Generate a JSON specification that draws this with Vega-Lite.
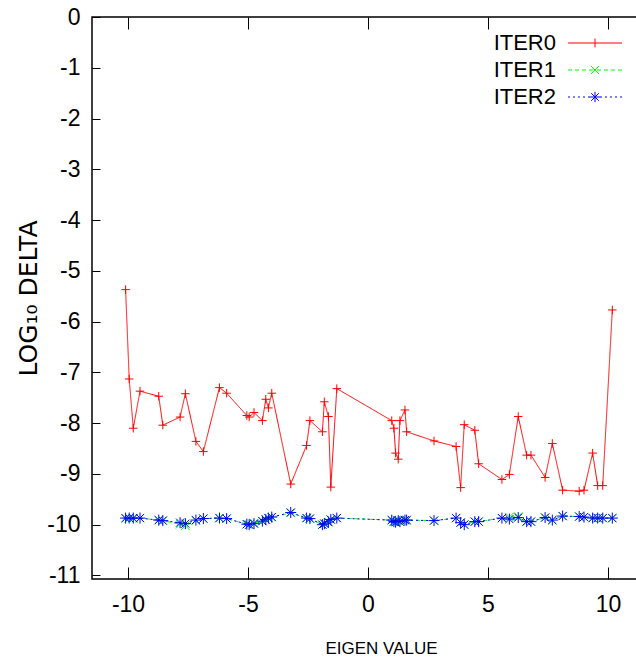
{
  "$schema": "https://vega.github.io/schema/vega-lite/v6.json",
  "width": 552,
  "height": 562,
  "autosize": {"type": "none"},
  "padding": {"left": 92, "top": 17, "right": -8, "bottom": 82},
  "background": "white",
  "config": {
    "view": {"stroke": "black", "strokeWidth": 1.5},
    "axis": {
      "labelColor": "black",
      "tickColor": "black",
      "tickWidth": 1,
      "domain": false,
      "grid": false,
      "labelFont": "Liberation Sans",
      "labelFontSize": 23,
      "titleColor": "black",
      "titleFontWeight": "normal",
      "labelOverlap": false,
      "labelFlush": false,
      "labelExpr": "toString(datum.value)"
    }
  },
  "data": {
    "values": [
      {"x": -10.10, "ITER0": -5.37, "ITER1": -9.88, "ITER2": -9.87},
      {"x": -9.95, "ITER0": -7.13, "ITER1": -9.87, "ITER2": -9.87},
      {"x": -9.78, "ITER0": -8.10, "ITER1": -9.88, "ITER2": -9.87},
      {"x": -9.50, "ITER0": -7.37, "ITER1": -9.87, "ITER2": -9.87},
      {"x": -8.72, "ITER0": -7.47, "ITER1": -9.91, "ITER2": -9.91},
      {"x": -8.55, "ITER0": -8.04, "ITER1": -9.92, "ITER2": -9.92},
      {"x": -7.83, "ITER0": -7.88, "ITER1": -9.99, "ITER2": -9.96},
      {"x": -7.61, "ITER0": -7.42, "ITER1": -10.02, "ITER2": -9.98},
      {"x": -7.17, "ITER0": -8.36, "ITER1": -9.92, "ITER2": -9.91},
      {"x": -6.86, "ITER0": -8.56, "ITER1": -9.88, "ITER2": -9.88},
      {"x": -6.19, "ITER0": -7.30, "ITER1": -9.87, "ITER2": -9.87},
      {"x": -5.89, "ITER0": -7.41, "ITER1": -9.88, "ITER2": -9.88},
      {"x": -5.05, "ITER0": -7.85, "ITER1": -9.99, "ITER2": -9.99},
      {"x": -4.95, "ITER0": -7.88, "ITER1": -10.0, "ITER2": -10.0},
      {"x": -4.75, "ITER0": -7.79, "ITER1": -9.97, "ITER2": -9.98},
      {"x": -4.40, "ITER0": -7.95, "ITER1": -9.93, "ITER2": -9.93},
      {"x": -4.26, "ITER0": -7.53, "ITER1": -9.90, "ITER2": -9.90},
      {"x": -4.15, "ITER0": -7.70, "ITER1": -9.87, "ITER2": -9.87},
      {"x": -4.01, "ITER0": -7.41, "ITER1": -9.85, "ITER2": -9.85},
      {"x": -3.22, "ITER0": -9.20, "ITER1": -9.77, "ITER2": -9.76},
      {"x": -2.56, "ITER0": -8.44, "ITER1": -9.87, "ITER2": -9.87},
      {"x": -2.42, "ITER0": -7.95, "ITER1": -9.88, "ITER2": -9.88},
      {"x": -1.90, "ITER0": -8.17, "ITER1": -10.0, "ITER2": -10.0},
      {"x": -1.82, "ITER0": -7.58, "ITER1": -9.98, "ITER2": -9.98},
      {"x": -1.65, "ITER0": -7.87, "ITER1": -9.95, "ITER2": -9.95},
      {"x": -1.55, "ITER0": -9.26, "ITER1": -9.90, "ITER2": -9.90},
      {"x": -1.30, "ITER0": -7.32, "ITER1": -9.87, "ITER2": -9.87},
      {"x": 0.99, "ITER0": -7.95, "ITER1": -9.91, "ITER2": -9.91},
      {"x": 1.08, "ITER0": -8.10, "ITER1": -9.94, "ITER2": -9.94},
      {"x": 1.15, "ITER0": -8.59, "ITER1": -9.95, "ITER2": -9.95},
      {"x": 1.26, "ITER0": -8.71, "ITER1": -9.92, "ITER2": -9.92},
      {"x": 1.33, "ITER0": -7.95, "ITER1": -9.94, "ITER2": -9.94},
      {"x": 1.54, "ITER0": -7.74, "ITER1": -9.91, "ITER2": -9.91},
      {"x": 1.61, "ITER0": -8.17, "ITER1": -9.91, "ITER2": -9.91},
      {"x": 2.75, "ITER0": -8.35, "ITER1": -9.92, "ITER2": -9.92},
      {"x": 3.67, "ITER0": -8.46, "ITER1": -9.87, "ITER2": -9.87},
      {"x": 3.86, "ITER0": -9.27, "ITER1": -9.96, "ITER2": -9.96},
      {"x": 4.01, "ITER0": -8.03, "ITER1": -10.0, "ITER2": -10.0},
      {"x": 4.45, "ITER0": -8.14, "ITER1": -9.94, "ITER2": -9.94},
      {"x": 4.61, "ITER0": -8.80, "ITER1": -9.94, "ITER2": -9.94},
      {"x": 5.58, "ITER0": -9.11, "ITER1": -9.87, "ITER2": -9.87},
      {"x": 5.89, "ITER0": -9.01, "ITER1": -9.85, "ITER2": -9.89},
      {"x": 6.26, "ITER0": -7.87, "ITER1": -9.84, "ITER2": -9.86},
      {"x": 6.61, "ITER0": -8.63, "ITER1": -9.94, "ITER2": -9.94},
      {"x": 6.79, "ITER0": -8.63, "ITER1": -9.94, "ITER2": -9.94},
      {"x": 7.38, "ITER0": -9.07, "ITER1": -9.86, "ITER2": -9.86},
      {"x": 7.68, "ITER0": -8.40, "ITER1": -9.91, "ITER2": -9.91},
      {"x": 8.11, "ITER0": -9.32, "ITER1": -9.83, "ITER2": -9.83},
      {"x": 8.80, "ITER0": -9.34, "ITER1": -9.84, "ITER2": -9.84},
      {"x": 9.00, "ITER0": -9.32, "ITER1": -9.85, "ITER2": -9.85},
      {"x": 9.36, "ITER0": -8.59, "ITER1": -9.87, "ITER2": -9.87},
      {"x": 9.57, "ITER0": -9.23, "ITER1": -9.87, "ITER2": -9.87},
      {"x": 9.78, "ITER0": -9.23, "ITER1": -9.87, "ITER2": -9.87},
      {"x": 10.18, "ITER0": -5.77, "ITER1": -9.87, "ITER2": -9.87}
    ]
  },
  "transform": [{"fold": ["ITER0", "ITER1", "ITER2"], "as": ["s", "y"]}],
  "layer": [
    {
      "mark": {"type": "line", "strokeWidth": 1, "clip": true},
      "encoding": {
        "x": {
          "field": "x", "type": "quantitative",
          "scale": {"domain": [-11.5, 11.5], "nice": false, "zero": false},
          "axis": {
            "orient": "bottom",
            "values": [-10, -5, 0, 5, 10],
            "tickSize": -12,
            "labelPadding": 26,
            "title": "EIGEN VALUE",
            "titleFont": "Liberation Sans",
            "titleFontSize": 17,
            "titleX": 289,
            "titleY": 69,
            "titleBaseline": "middle",
            "titleAlign": "center"
          }
        },
        "y": {
          "field": "y", "type": "quantitative",
          "scale": {"domain": [-11.07, 0], "nice": false, "zero": false},
          "axis": {
            "orient": "left",
            "values": [-11, -10, -9, -8, -7, -6, -5, -4, -3, -2, -1, 0],
            "tickSize": -8,
            "labelPadding": 20,
            "title": "LOG₁₀ DELTA",
            "titleFont": "DejaVu Sans",
            "titleFontSize": 25,
            "titleAngle": -90,
            "titleX": -64,
            "titleY": 281,
            "titleBaseline": "middle",
            "titleAlign": "center"
          }
        },
        "color": {
          "field": "s", "type": "nominal",
          "scale": {"domain": ["ITER0", "ITER1", "ITER2"], "range": ["#ff0000", "#00ff00", "#0000ff"]},
          "legend": null
        },
        "strokeDash": {
          "field": "s", "type": "nominal",
          "scale": {"domain": ["ITER0", "ITER1", "ITER2"], "range": [[1, 0], [4, 3], [2, 3]]},
          "legend": null
        }
      }
    },
    {
      "mark": {"type": "point", "filled": false, "strokeWidth": 1, "size": 72, "opacity": 1},
      "encoding": {
        "x": {
          "field": "x", "type": "quantitative",
          "scale": {"domain": [-11.5, 11.5], "nice": false, "zero": false},
          "axis": {"orient": "top", "values": [-10, -5, 0, 5, 10], "tickSize": -12, "labels": false, "title": null}
        },
        "y": {
          "field": "y", "type": "quantitative",
          "scale": {"domain": [-11.07, 0], "nice": false, "zero": false},
          "axis": {"orient": "right", "values": [-11, -10, -9, -8, -7, -6, -5, -4, -3, -2, -1, 0], "tickSize": -8, "labels": false, "title": null}
        },
        "color": {
          "field": "s", "type": "nominal",
          "scale": {"domain": ["ITER0", "ITER1", "ITER2"], "range": ["#ff0000", "#00ff00", "#0000ff"]},
          "legend": null
        },
        "shape": {
          "field": "s", "type": "nominal",
          "scale": {"domain": ["ITER0", "ITER1", "ITER2"], "range": ["M-1,0L1,0M0,-1L0,1", "M-1,-1L1,1M-1,1L1,-1", "M-1.3,0L1.3,0M0,-1.3L0,1.3M-0.95,-0.95L0.95,0.95M-0.95,0.95L0.95,-0.95"]},
          "legend": null
        }
      }
    },
    {
      "mark": {"type": "point", "filled": false, "strokeWidth": 1, "size": 64, "opacity": 0},
      "encoding": {
        "x": {"field": "x", "type": "quantitative", "axis": null},
        "y": {"field": "y", "type": "quantitative", "axis": null},
        "color": {
          "field": "s", "type": "nominal",
          "scale": {"domain": ["ITER0", "ITER1", "ITER2"], "range": ["#ff0000", "#00ff00", "#0000ff"]},
          "legend": {
            "title": null,
            "orient": "none",
            "legendX": 492,
            "legendY": 15,
            "padding": 0,
            "labelAlign": "right",
            "labelBaseline": "middle",
            "labelOffset": -50,
            "labelFont": "Liberation Sans",
            "labelFontSize": 22,
            "labelColor": "black",
            "symbolSize": 64,
            "symbolStrokeWidth": 1,
            "symbolOpacity": 1,
            "rowPadding": 5
          }
        },
        "shape": {
          "field": "s", "type": "nominal",
          "scale": {"domain": ["ITER0", "ITER1", "ITER2"], "range": [
            "M-6.75,0L6.75,0M0,-1.1L0,1.1",
            "M-6.75,0L-5.75,0M-5,0L-4,0M-3.25,0L-2.25,0M-1.5,0L-0.5,0M0.5,0L1.5,0M2.25,0L3.25,0M4,0L5,0M5.75,0L6.75,0M-1,-1L1,1M-1,1L1,-1",
            "M-6.75,0L-6.25,0M-5.5,0L-5,0M-4.25,0L-3.75,0M-3,0L-2.5,0M-1.75,0L-1.25,0M1.25,0L1.75,0M2.5,0L3,0M3.75,0L4.25,0M5,0L5.5,0M6.25,0L6.75,0M-1.3,0L1.3,0M0,-1.3L0,1.3M-0.95,-0.95L0.95,0.95M-0.95,0.95L0.95,-0.95"
          ]},
          "legend": {
            "title": null,
            "orient": "none",
            "legendX": 492,
            "legendY": 15,
            "padding": 0,
            "labelAlign": "right",
            "labelBaseline": "middle",
            "labelOffset": -50,
            "labelFont": "Liberation Sans",
            "labelFontSize": 22,
            "labelColor": "black",
            "symbolSize": 64,
            "symbolStrokeWidth": 1,
            "symbolOpacity": 1,
            "rowPadding": 5
          }
        }
      }
    }
  ],
  "resolve": {
    "axis": {"x": "independent", "y": "independent"},
    "scale": {"shape": "independent"},
    "legend": {"color": "independent", "shape": "independent"}
  }
}
